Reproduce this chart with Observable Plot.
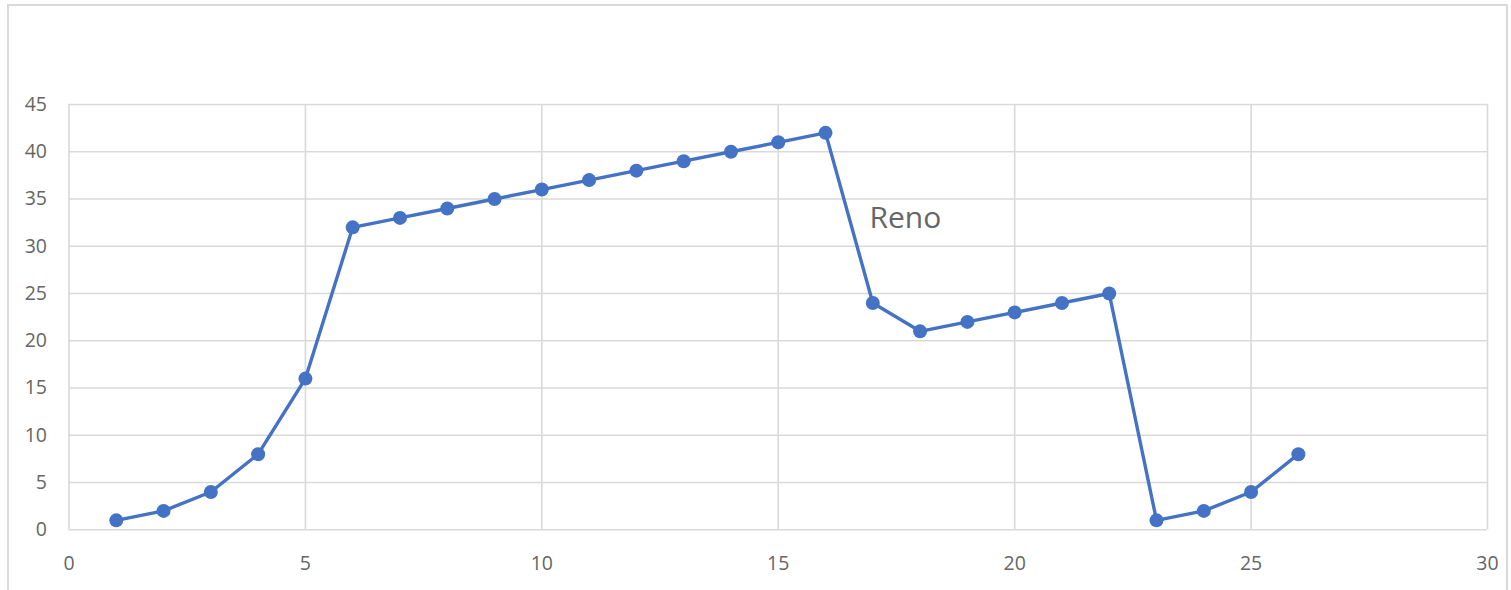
<!DOCTYPE html>
<html>
<head>
<meta charset="utf-8">
<script src="https://cdn.jsdelivr.net/npm/d3@7"></script>
<script src="https://cdn.jsdelivr.net/npm/@observablehq/plot@0.6"></script>
<style>
  html, body { margin: 0; padding: 0; background: #fff; overflow: hidden; }
  #wrap { position: relative; width: 1511px; height: 590px; }
  #frame { position: absolute; left: 7px; top: 4px; width: 1501px; height: 620px; border: 2px solid #d9d9d9; box-sizing: border-box; pointer-events: none; }
  #chart { position: absolute; left: 0; top: 0; }
</style>
</head>
<body>
<div id="wrap"><div id="chart"></div><div id="frame"></div></div>
<script>
const xValues = [1,2,3,4,5,6,7,8,9,10,11,12,13,14,15,16,17,18,19,20,21,22,23,24,25,26];
const yValues = [1,2,4,8,16,32,33,34,35,36,37,38,39,40,41,42,24,21,22,23,24,25,1,2,4,8];
const xTicks = [0,5,10,15,20,25,30];
const yTicks = [0,5,10,15,20,25,30,35,40,45];
const labelText = ["Reno"];
const labelX = [16.93];
const labelY = [33];

const data = xValues.map((x, i) => ({x, y: yValues[i]}));
const labels = labelText.map((t, i) => ({t, x: labelX[i], y: labelY[i]}));

const chart = Plot.plot({
  width: 1511,
  height: 590,
  marginLeft: 68.5,
  marginRight: 24,
  marginTop: 104,
  marginBottom: 60.7,
  style: {fontFamily: "'Open Sans', sans-serif", fontSize: "19px", color: "#595959", background: "transparent"},
  x: {domain: [0, 30], ticks: xTicks, label: null},
  y: {domain: [0, 45], ticks: yTicks, label: null},
  marks: [
    Plot.gridX(xTicks, {stroke: "#d9d9d9", strokeOpacity: 1, strokeWidth: 1.6}),
    Plot.gridY(yTicks, {stroke: "#d9d9d9", strokeOpacity: 1, strokeWidth: 1.6}),
    Plot.axisX(xTicks, {tickSize: 0, tickPadding: 26, fill: "#666666", fontSize: 19.5, label: null}),
    Plot.axisY(yTicks, {tickSize: 0, tickPadding: 22, fill: "#666666", fontSize: 19.5, label: null}),
    Plot.line(data, {x: "x", y: "y", stroke: "#4472C4", strokeWidth: 3.4}),
    Plot.dot(data, {x: "x", y: "y", fill: "#4472C4", r: 7}),
    Plot.text(labels, {x: "x", y: "y", text: "t", textAnchor: "start", fontSize: 30, fill: "#666666"})
  ]
});
document.getElementById("chart").appendChild(chart);
</script>
</body>
</html>
